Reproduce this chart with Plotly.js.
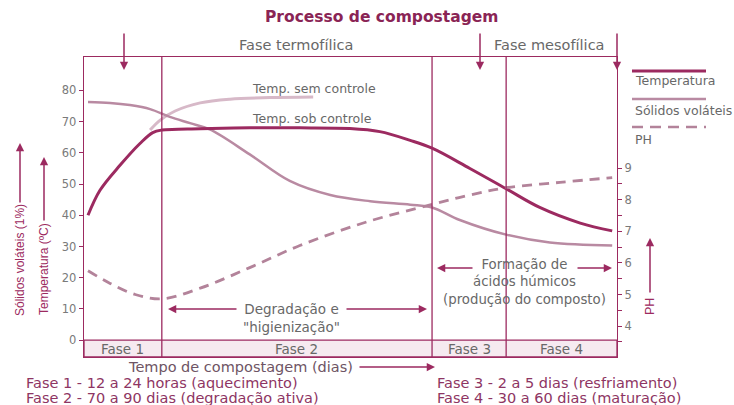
<!DOCTYPE html>
<html>
<head>
<meta charset="utf-8">
<script src="https://cdn.plot.ly/plotly-3.0.1.min.js"></script>
<style>
  body { margin: 0; background: #fff; }
  #grafico { width: 734px; height: 405px; }
</style>
</head>
<body>
<div id="grafico"></div>
<script>
// tempo (unidades relativas 0-100 ao longo do eixo)
let tempoTemp = [0.75, 3.0, 6.75, 10.5, 12.9, 14.6, 21.8, 31.1, 40.5, 49.9, 55.5, 61.2, 65.3, 72.4, 79.2, 85.5, 93.1, 99.1];
let temperatura = [40, 48, 56, 63, 66.5, 67.3, 67.7, 68, 68, 67.8, 66.8, 64, 61.5, 55, 48.5, 42.5, 37.5, 35];

let tempoSem = [12.4, 14.3, 17.1, 21.8, 27.4, 34.9, 43.0];
let tempSemControle = [67.3, 70.5, 73.4, 76, 77.2, 77.7, 77.9];

let tempoSolidos = [0.75, 4.9, 8.6, 12.4, 16.1, 19.9, 23.6, 31.1, 38.6, 46.2, 53.7, 61.2, 65.3, 70.5, 79.2, 87.4, 99.1];
let solidos = [76.3, 76, 75.3, 74, 71.5, 69.5, 67.5, 59.5, 51, 46.5, 44.5, 43.4, 42.5, 38.5, 33.8, 31.3, 30.3];

let tempoPH = [0.75, 4.9, 9.6, 14.6, 21.8, 31.1, 40.5, 53.1, 65.3, 72.4, 79.2, 89.3, 99.1];
let ph = [5.75, 5.35, 5.0, 4.86, 5.2, 5.85, 6.55, 7.3, 7.85, 8.15, 8.38, 8.55, 8.7];

let limitesFase = [0, 14.6, 65.3, 79.2, 100];
let nomesFase = ['Fase 1', 'Fase 2', 'Fase 3', 'Fase 4'];

let ticksTemp = [0, 10, 20, 30, 40, 50, 60, 70, 80];
let ticksPH = [3.5, 4, 4.5, 5, 5.5, 6, 6.5, 7, 7.5, 8, 8.5, 9];
let textosPH = ['', '4', '', '5', '', '6', '', '7', '', '8', '', '9'];

// cores
let magenta = '#9c2a60';
let corSolidos = '#b98aa2';
let corSem = '#d7b9c8';
let corPH = '#b3839a';
let cinza = '#686868';
let corFases = '#8e3563';
let fonte = 'DejaVu Sans, sans-serif';
let fonteEstreita = 'Liberation Sans, Arial, sans-serif';

// pixel -> papel
function P(x) { return (x - 84) / 533; }
function Q(y) { return (357 - y) / 300; }

let graf1 = {
    x: tempoSem, y: tempSemControle, type: 'scatter', mode: 'lines',
    line: { color: corSem, width: 3, shape: 'spline' }, hoverinfo: 'skip'
};
let graf2 = {
    x: tempoSolidos, y: solidos, type: 'scatter', mode: 'lines',
    line: { color: corSolidos, width: 2.5, shape: 'spline' }, hoverinfo: 'skip'
};
let graf3 = {
    x: tempoPH, y: ph, yaxis: 'y2', type: 'scatter', mode: 'lines',
    line: { color: corPH, width: 2.8, dash: '10px,7px', shape: 'spline' }, hoverinfo: 'skip'
};
let graf4 = {
    x: tempoTemp, y: temperatura, type: 'scatter', mode: 'lines',
    line: { color: magenta, width: 3, shape: 'spline' }, hoverinfo: 'skip'
};

let formas = [];
// faixa das fases
formas.push({ type: 'rect', xref: 'x', yref: 'y', x0: 0, x1: 100, y0: -5.4, y1: 0,
    fillcolor: '#f6eaf0', line: { color: magenta, width: 1.3 }, layer: 'below' });
for (let i = 1; i < limitesFase.length - 1; i++)
{
    formas.push({ type: 'line', xref: 'x', yref: 'paper', x0: limitesFase[i], x1: limitesFase[i], y0: 0, y1: 1,
        line: { color: magenta, width: 1.3 } });
}
// legenda
formas.push({ type: 'line', xref: 'paper', yref: 'paper', x0: P(632), x1: P(706), y0: Q(71), y1: Q(71), line: { color: magenta, width: 3 } });
formas.push({ type: 'line', xref: 'paper', yref: 'paper', x0: P(632), x1: P(706), y0: Q(99), y1: Q(99), line: { color: corSolidos, width: 2.5 } });
formas.push({ type: 'line', xref: 'paper', yref: 'paper', x0: P(632), x1: P(706), y0: Q(127), y1: Q(127), line: { color: corPH, width: 2.5, dash: '11px,7px' } });

function texto(t, x, y, tam, cor, alinha, angulo, familia)
{
    return { text: t, xref: 'paper', yref: 'paper', x: P(x), y: Q(y), showarrow: false,
        xanchor: alinha || 'center', yanchor: 'middle', textangle: angulo || 0,
        font: { family: familia || fonte, size: tam, color: cor } };
}
function seta(x, y, ax, ay)
{
    return { text: '', xref: 'paper', yref: 'paper', x: P(x), y: Q(y), ax: ax - x, ay: ay - y,
        showarrow: true, arrowhead: 2, arrowsize: 1.1, arrowwidth: 1.5, arrowcolor: magenta };
}

let notas = [
    texto('<b>Processo de compostagem</b>', 381, 17, 15.5, '#8a2455'),
    texto('Fase termofílica', 296, 45, 14.5, cinza),
    texto('Fase mesofílica', 549, 45, 14.5, cinza),
    texto('Temp. sem controle', 250, 88, 12.5, cinza, 'left'),
    texto('Temp. sob controle', 250, 118, 12.5, cinza, 'left'),
    texto('Temperatura', 633, 81, 12.5, cinza, 'left'),
    texto('Sólidos voláteis', 633, 110, 12.5, cinza, 'left'),
    texto('PH', 633, 139, 12.5, cinza, 'left'),
    texto('Degradação e<br>"higienização"', 291, 318, 13.5, cinza),
    texto('Formação de<br>ácidos húmicos<br>(produção do composto)', 524, 282, 13.3, cinza),
    texto('Tempo de compostagem (dias)', 240, 367, 14.5, '#6e5464'),
    texto('Fase 1 - 12 a 24 horas (aquecimento)', 24, 383, 14.5, corFases, 'left'),
    texto('Fase 2 - 70 a 90 dias (degradação ativa)', 24, 398, 14.5, corFases, 'left'),
    texto('Fase 3 - 2 a 5 dias (resfriamento)', 435, 383, 14.5, corFases, 'left'),
    texto('Fase 4 - 30 a 60 dias (maturação)', 435, 398, 14.5, corFases, 'left'),
    texto('Sólidos voláteis (1%)', 20, 260, 12, magenta, 'center', -90, fonteEstreita),
    texto('Temperatura (ºC)', 44, 269, 12, magenta, 'center', -90, fonteEstreita),
    texto('PH', 650, 307, 12.5, magenta, 'center', -90, fonteEstreita),
    // setas
    seta(124, 70, 124, 32),
    seta(480, 70, 480, 32),
    seta(617, 70, 617, 32),
    seta(168, 309, 238, 309),
    seta(427, 309, 345, 309),
    seta(437, 268, 474, 268),
    seta(612, 268, 576, 268),
    seta(435, 367, 358, 367),
    seta(20, 143, 20, 204),
    seta(44, 157, 44, 222),
    seta(650, 238, 650, 294)
];
for (let i = 0; i < nomesFase.length; i++)
{
    notas.push({ text: nomesFase[i], xref: 'x', yref: 'y', x: (limitesFase[i] + limitesFase[i + 1]) / 2, y: -2.7,
        xanchor: 'center', yanchor: 'middle', showarrow: false, font: { family: fonte, size: 13.5, color: cinza } });
}

let layout =
{
    width: 734, height: 405,
    margin: { l: 84, r: 117, t: 57, b: 48 },
    paper_bgcolor: '#ffffff', plot_bgcolor: '#ffffff',
    showlegend: false,
    font: { family: fonte, color: cinza },
    xaxis: {
        range: [0, 100], showgrid: false, zeroline: false, showticklabels: false,
        showline: true, mirror: true, linecolor: magenta, linewidth: 1.3, ticks: ''
    },
    yaxis: {
        range: [-5.4, 90.7], showgrid: false, zeroline: false,
        tickvals: ticksTemp, ticks: 'outside', ticklen: 4, tickcolor: magenta,
        showline: true, linecolor: magenta, linewidth: 1.3,
        tickfont: { family: fonte, size: 11.5, color: '#7a7a7a' }
    },
    yaxis2: {
        overlaying: 'y', side: 'right', range: [3.02, 12.52], showgrid: false, zeroline: false,
        tickvals: ticksPH, ticktext: textosPH, ticks: 'outside', ticklen: 4, tickcolor: magenta,
        showline: true, linecolor: magenta, linewidth: 1.3,
        tickfont: { family: fonte, size: 11.5, color: '#7a7a7a' }
    },
    shapes: formas,
    annotations: notas
};

// Llamado a plotly
let contenedor = document.getElementById("grafico");
Plotly.newPlot(contenedor, [graf1, graf2, graf3, graf4], layout, { staticPlot: true });
</script>
</body>
</html>
